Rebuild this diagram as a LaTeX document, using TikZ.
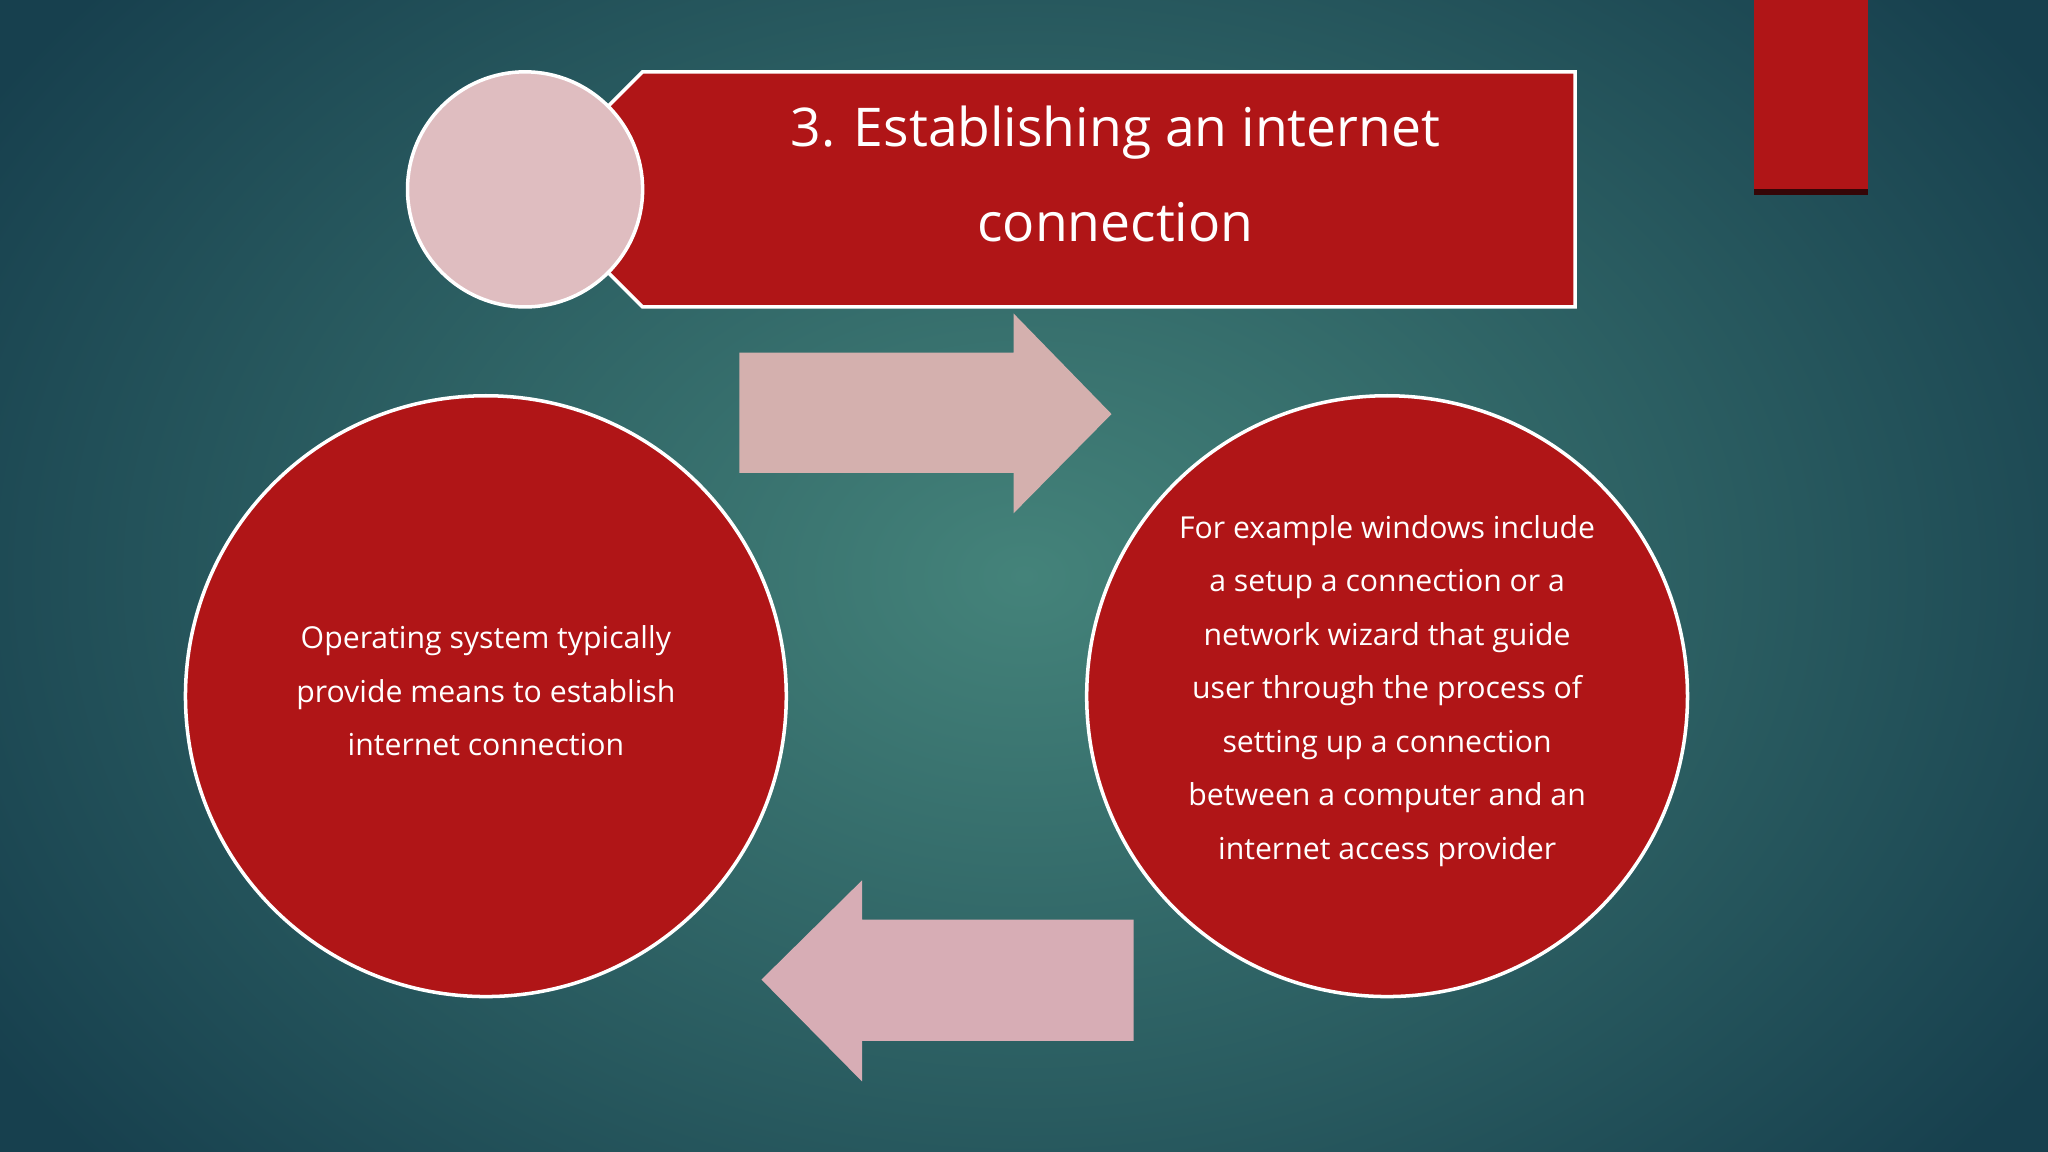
\documentclass[tikz,border=0pt]{standalone}
\usepackage{fontspec}
\setmainfont{Open Sans}
\begin{document}
\begin{tikzpicture}[x=0.01306cm,y=-0.01306cm,
  redfill/.style={fill=red1,draw=white,line width=1pt},
  arrowfill/.style={fill=pinkarrow,draw=none},
  body/.style={text=white,align=center,font=\fontsize{8.6}{15.2}\selectfont}]
\definecolor{red1}{HTML}{B01517}
\definecolor{pinkarrow}{HTML}{D4B0AE}
\definecolor{pinkarrow2}{HTML}{D7ADB5}
\definecolor{pinkc}{HTML}{DFBDC0}
\definecolor{bgin}{HTML}{44837A}
\definecolor{bgout}{HTML}{17404E}
\useasboundingbox (0,0) rectangle (1568,882);
\begin{scope}
\clip (0,0) rectangle (1568,882);
\shade[inner color=bgin,outer color=bgout] (-150,-250) rectangle (1718,1132);
\end{scope}
% top-right tab
\fill[red1] (1343,0) rectangle (1430,147);
\fill[black!70!red1] (1343,145) rectangle (1430,149);
% banner
\draw[redfill] (492,55) -- (1206,55) -- (1206,235) -- (492,235) -- (462,205) -- (462,85) -- cycle;
\node[circle,fill=pinkc,draw=white,line width=1pt,minimum size=180*0.01306cm,inner sep=0] (dot) at (402,145) {};
\node[text=white,align=center,font=\fontsize{15.2}{27}\selectfont] (title) at (854,133) {3. Establishing an internet\\connection};
% arrows
\fill[arrowfill] (566,270) -- (776,270) -- (776,240) -- (851,317) -- (776,393) -- (776,362) -- (566,362) -- cycle;
\fill[pinkarrow2] (868,704) -- (660,704) -- (660,674) -- (583,750) -- (660,828) -- (660,797) -- (868,797) -- cycle;
% circles
\node[circle,redfill,minimum size=460*0.01306cm,inner sep=0] (left) at (372,533) {};
\node[body] (lt) at (372,529) {Operating system typically\\provide means to establish\\internet connection};
\node[circle,redfill,minimum size=460*0.01306cm,inner sep=0] (right) at (1062,533) {};
\node[body] (rt) at (1062,529) {For example windows include\\a setup a connection or a\\network wizard that guide\\user through the process of\\setting up a connection\\between a computer and an\\internet access provider};
\end{tikzpicture}
\end{document}
